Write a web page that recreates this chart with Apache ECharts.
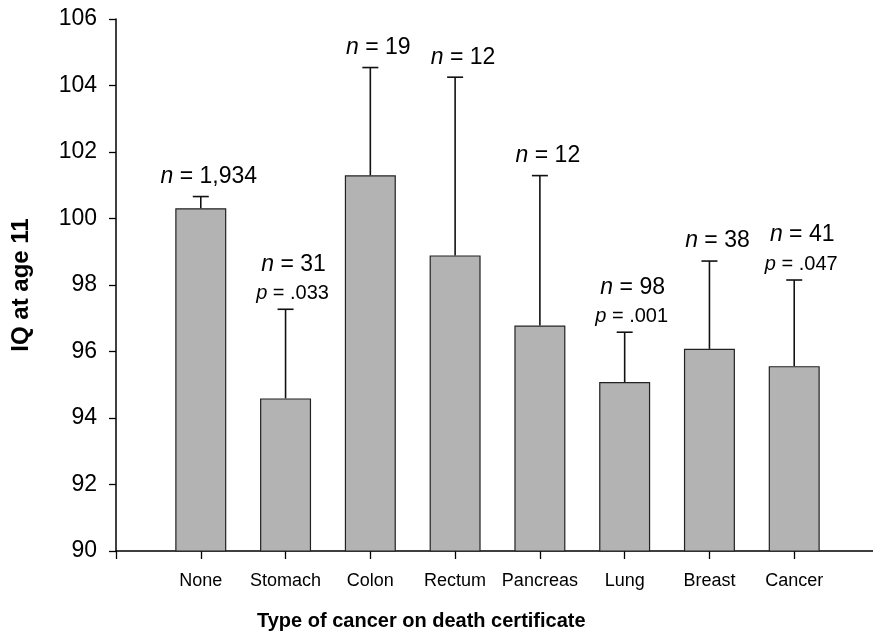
<!DOCTYPE html>
<html>
<head>
<meta charset="utf-8">
<script src="https://cdn.jsdelivr.net/npm/echarts@6/dist/echarts.min.js"></script>
<style>
html,body{margin:0;padding:0;background:#fff;}
#chart{width:873px;height:642px;}
</style>
</head>
<body>
<div id="chart"></div>
<script>
var categories = ['None', 'Stomach', 'Colon', 'Rectum', 'Pancreas', 'Lung', 'Breast', 'Cancer'];
var means = [100.31, 94.59, 101.3, 98.89, 96.78, 95.08, 96.08, 95.56];
var upper = [100.66, 97.27, 104.54, 104.25, 101.29, 96.58, 98.72, 98.15];
var nLabels = ['1,934', '31', '19', '12', '12', '98', '38', '41'];
var pLabels = ['', '.033', '', '', '', '.001', '', '.047'];
var yTicks = { min: 90, max: 106, interval: 2 };

var FONT = '"Liberation Sans", Arial, Helvetica, sans-serif';
var axisCats = [''].concat(categories).concat(['']);
var barData = [null].concat(means).concat([null]);
var errData = categories.map(function (c, i) {
  return [i + 1, means[i], upper[i], nLabels[i], pLabels[i]];
});

var chart = echarts.init(document.getElementById('chart'), null, { renderer: 'canvas' });
chart.setOption({
  animation: false,
  backgroundColor: '#fff',
  grid: { left: 116, width: 763, top: 19, height: 532, containLabel: false, outerBoundsMode: 'none' },
  xAxis: {
    type: 'category',
    data: axisCats,
    boundaryGap: false,
    axisLine: { lineStyle: { color: '#000', width: 1.5 } },
    axisTick: { show: true, length: 8, lineStyle: { color: '#000', width: 1.3 } },
    axisLabel: { color: '#000', fontSize: 18, fontFamily: FONT, margin: 21, interval: 0 },
    splitLine: { show: false }
  },
  yAxis: {
    type: 'value',
    min: yTicks.min, max: yTicks.max, interval: yTicks.interval,
    name: 'IQ at age 11',
    nameLocation: 'middle',
    nameGap: 83,
    nameTextStyle: { color: '#000', fontSize: 24, fontWeight: 'bold', fontFamily: FONT },
    axisLine: { show: true, lineStyle: { color: '#000', width: 1.5 } },
    axisTick: { show: true, length: 7, lineStyle: { color: '#000', width: 1.3 } },
    axisLabel: { color: '#000', fontSize: 23, fontFamily: FONT, margin: 19 },
    splitLine: { show: false }
  },
  graphic: [{
    type: 'text',
    left: 257, top: 611,
    style: { text: 'Type of cancer on death certificate', fill: '#000', font: 'bold 20px ' + FONT }
  }],
  series: [
    {
      type: 'bar',
      data: barData,
      barWidth: 51,
      itemStyle: { color: '#b3b3b3', borderColor: '#222', borderWidth: 1.2 },
      z: 2
    },
    {
      type: 'custom',
      data: errData,
      z: 3,
      renderItem: function (params, api) {
        var x = api.value(0);
        var top = api.coord([x, api.value(1)]);
        var cap = api.coord([x, api.value(2)]);
        var n = api.value(3);
        var p = api.value(4);
        var cx = top[0];
        var hw = 8;
        var children = [
          { type: 'line', shape: { x1: cx, y1: top[1], x2: cx, y2: cap[1] }, style: { stroke: '#111', lineWidth: 1.6 } },
          { type: 'line', shape: { x1: cx - hw, y1: cap[1], x2: cx + hw, y2: cap[1] }, style: { stroke: '#111', lineWidth: 1.6 } }
        ];
        var nY;
        if (p) {
          var pY = cap[1] - 16;
          nY = pY - 29;
          children.push({
            type: 'text',
            style: {
              x: cx + 7, y: pY, align: 'center', verticalAlign: 'middle',
              text: '{i|p} = ' + p,
              fill: '#000', font: '20px ' + FONT,
              rich: { i: { fontStyle: 'italic', fontSize: 20, fontFamily: FONT, fill: '#000' } }
            }
          });
        } else {
          nY = cap[1] - 20;
        }
        children.push({
          type: 'text',
          style: {
            x: cx + 8, y: nY, align: 'center', verticalAlign: 'middle',
            text: '{i|n} = ' + n,
            fill: '#000', font: '23px ' + FONT,
            rich: { i: { fontStyle: 'italic', fontSize: 23, fontFamily: FONT, fill: '#000' } }
          }
        });
        return { type: 'group', children: children };
      }
    }
  ]
});
</script>
</body>
</html>
